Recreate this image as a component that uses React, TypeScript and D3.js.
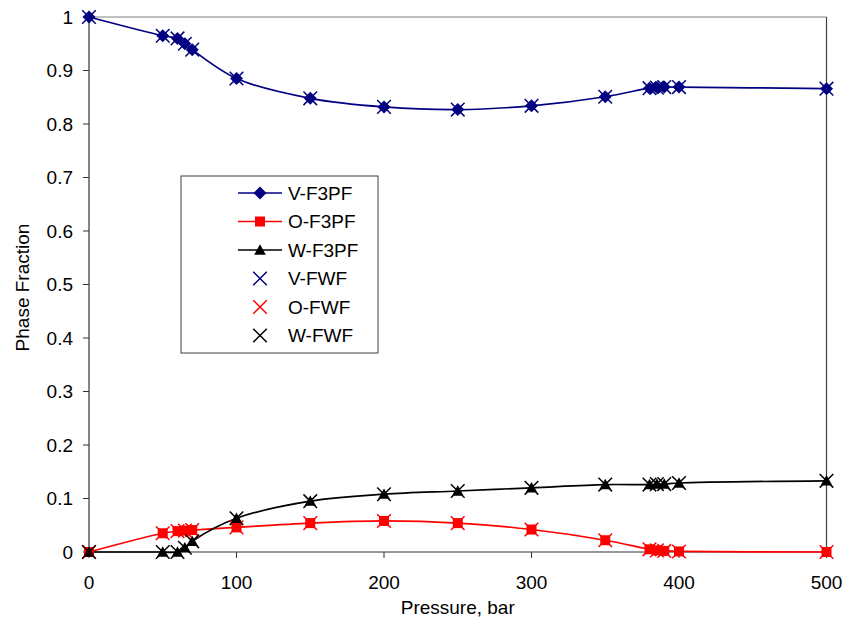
import React from "react";
import * as d3 from "d3";

const pressures = [0, 50, 60, 65, 70, 100, 150, 200, 250, 300, 350, 380, 385, 390, 400, 500];
const vF3PF = [1.0, 0.965, 0.96, 0.95, 0.939, 0.885, 0.848, 0.832, 0.827, 0.834, 0.851, 0.867, 0.868, 0.869, 0.869, 0.866];
const oF3PF = [0, 0.035, 0.039, 0.040, 0.041, 0.046, 0.054, 0.058, 0.054, 0.042, 0.022, 0.005, 0.003, 0.002, 0.001, 0];
const wF3PF = [0, 0, 0, 0.008, 0.02, 0.063, 0.095, 0.108, 0.114, 0.12, 0.126, 0.126, 0.127, 0.127, 0.129, 0.133];
const vFWF = [1.0, 0.965, 0.96, 0.95, 0.939, 0.885, 0.848, 0.832, 0.827, 0.834, 0.851, 0.867, 0.868, 0.869, 0.869, 0.866];
const oFWF = [0, 0.035, 0.039, 0.040, 0.041, 0.046, 0.054, 0.058, 0.054, 0.042, 0.022, 0.005, 0.003, 0.002, 0.001, 0];
const wFWF = [0, 0, 0, 0.008, 0.02, 0.063, 0.095, 0.108, 0.114, 0.12, 0.126, 0.126, 0.127, 0.127, 0.129, 0.133];

const xTicks = [0, 100, 200, 300, 400, 500];
const yTicks = [0, 0.1, 0.2, 0.3, 0.4, 0.5, 0.6, 0.7, 0.8, 0.9, 1];
const yTickLabels = ["0", "0.1", "0.2", "0.3", "0.4", "0.5", "0.6", "0.7", "0.8", "0.9", "1"];

const legendLabels = ["V-F3PF", "O-F3PF", "W-F3PF", "V-FWF", "O-FWF", "W-FWF"];

const NAVY = "#000080";
const RED = "#ff0000";
const BLACK = "#000000";
const FONT = "'Liberation Sans', Arial, sans-serif";

type Marker = "diamond" | "square" | "triangle" | "cross";

function MarkerShape({ type, cx, cy, color }: { type: Marker; cx: number; cy: number; color: string }) {
  if (type === "diamond") {
    const r = 6.5;
    return <path d={`M${cx},${cy - r}L${cx + r},${cy}L${cx},${cy + r}L${cx - r},${cy}Z`} fill={color} />;
  }
  if (type === "square") {
    const r = 5;
    return <rect x={cx - r} y={cy - r} width={2 * r} height={2 * r} fill={color} />;
  }
  if (type === "triangle") {
    const r = 5.8;
    return <path d={`M${cx},${cy - r}L${cx + r},${cy + r * 0.8}L${cx - r},${cy + r * 0.8}Z`} fill={color} />;
  }
  const r = 6.8;
  return (
    <path
      d={`M${cx - r},${cy - r}L${cx + r},${cy + r}M${cx - r},${cy + r}L${cx + r},${cy - r}`}
      stroke={color}
      strokeWidth={1.5}
      fill="none"
    />
  );
}

export default function App() {
  const x = d3.scaleLinear().domain([0, 500]).range([89, 826.5]);
  const y = d3.scaleLinear().domain([0, 1]).range([552, 17]);

  const line = d3
    .line<[number, number]>()
    .x((d) => x(d[0]))
    .y((d) => y(d[1]))
    .curve(d3.curveCatmullRom.alpha(0.5));

  const lineSeries = [
    { vals: vF3PF, color: NAVY, marker: "diamond" as Marker },
    { vals: oF3PF, color: RED, marker: "square" as Marker },
    { vals: wF3PF, color: BLACK, marker: "triangle" as Marker },
  ];
  const crossSeries = [
    { vals: vFWF, color: NAVY },
    { vals: oFWF, color: RED },
    { vals: wFWF, color: BLACK },
  ];

  const legendItems: { label: string; color: string; marker: Marker; line: boolean }[] = [
    { label: legendLabels[0], color: NAVY, marker: "diamond", line: true },
    { label: legendLabels[1], color: RED, marker: "square", line: true },
    { label: legendLabels[2], color: BLACK, marker: "triangle", line: true },
    { label: legendLabels[3], color: NAVY, marker: "cross", line: false },
    { label: legendLabels[4], color: RED, marker: "cross", line: false },
    { label: legendLabels[5], color: BLACK, marker: "cross", line: false },
  ];

  const [x0, x1] = x.range();
  const [y0, y1] = y.range();

  return (
    <svg
      width={845}
      height={629}
      style={{ position: "absolute", left: 0, top: 0, background: "#fff" }}
      fontFamily={FONT}
    >
      <rect x={0} y={0} width={845} height={629} fill="#fff" />
      {/* frame */}
      <line x1={x0} x2={x1} y1={y1} y2={y1} stroke="#808080" strokeWidth={1} />
      <line x1={x1} x2={x1} y1={y1} y2={y0} stroke="#404040" strokeWidth={1.2} />
      <line x1={x0} x2={x0} y1={y1} y2={y0} stroke="#333" strokeWidth={1.2} />
      <line x1={x0} x2={x1} y1={y0} y2={y0} stroke="#333" strokeWidth={1.2} />

      {/* y ticks */}
      {yTicks.map((t, i) => (
        <g key={"y" + i}>
          <line x1={x0 - 6} x2={x0} y1={y(t)} y2={y(t)} stroke="#333" />
          <text x={x0 - 16} y={y(t)} dy="0.36em" textAnchor="end" fontSize={19} fill="#000">
            {yTickLabels[i]}
          </text>
        </g>
      ))}
      {/* x ticks */}
      {xTicks.map((t, i) => (
        <g key={"x" + i}>
          <line x1={x(t)} x2={x(t)} y1={y0} y2={y0 + 6} stroke="#333" />
          <text x={x(t)} y={y0 + 37} textAnchor="middle" fontSize={19} fill="#000">
            {String(t)}
          </text>
        </g>
      ))}

      {/* axis titles */}
      <text x={(x0 + x1) / 2} y={614} textAnchor="middle" fontSize={19} fill="#000">
        Pressure, bar
      </text>
      <text
        transform={`translate(29,${(y0 + y1) / 2 + 3}) rotate(-90)`}
        textAnchor="middle"
        fontSize={19}
        fill="#000"
      >
        Phase Fraction
      </text>

      {/* lines */}
      {lineSeries.map((s, i) => (
        <path
          key={"l" + i}
          d={line(pressures.map((p, j) => [p, s.vals[j]] as [number, number])) || ""}
          fill="none"
          stroke={s.color}
          strokeWidth={1.7}
        />
      ))}
      {lineSeries.map((s, i) =>
        pressures.map((p, j) => (
          <MarkerShape key={`m${i}-${j}`} type={s.marker} cx={x(p)} cy={y(s.vals[j])} color={s.color} />
        ))
      )}
      {crossSeries.map((s, i) =>
        pressures.map((p, j) => (
          <MarkerShape key={`c${i}-${j}`} type="cross" cx={x(p)} cy={y(s.vals[j])} color={s.color} />
        ))
      )}

      {/* legend */}
      <rect x={181} y={176} width={197} height={177} fill="#fff" stroke="#404040" strokeWidth={1} />
      {legendItems.map((it, i) => {
        const ly = 193 + i * 28.5;
        return (
          <g key={"lg" + i}>
            {it.line && <line x1={238} x2={282} y1={ly} y2={ly} stroke={it.color} strokeWidth={1.7} />}
            <MarkerShape type={it.marker} cx={260} cy={ly} color={it.color} />
            <text x={288} y={ly} dy="0.36em" fontSize={19} fill="#000">
              {it.label}
            </text>
          </g>
        );
      })}
    </svg>
  );
}
